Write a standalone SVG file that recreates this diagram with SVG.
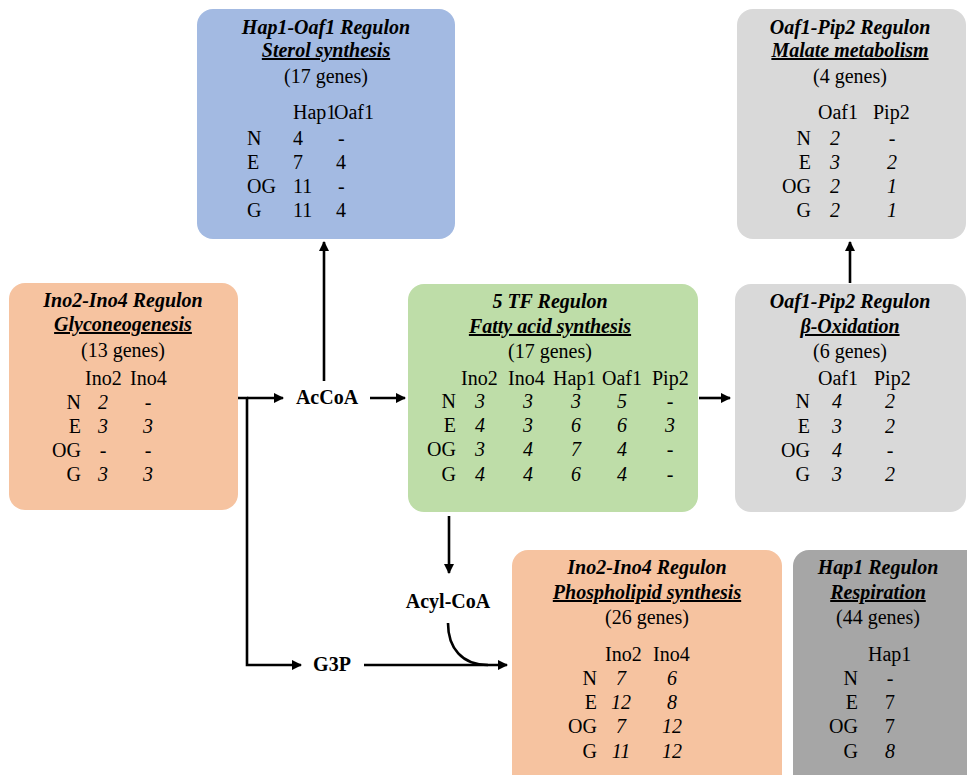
<svg xmlns="http://www.w3.org/2000/svg" width="967" height="775" viewBox="0 0 967 775">
<style>
text{font-family:"Liberation Serif","DejaVu Serif",serif;font-size:20px;fill:#000}
.t{font-weight:bold;font-style:italic;text-anchor:middle}
.u{text-decoration:underline}
.c{text-anchor:middle}
.r{text-anchor:end}
.i{font-style:italic}
.b{font-weight:bold}
.ln{fill:none;stroke:#000;stroke-width:2.6}
.blue{fill:#a3bae2}
.orange{fill:#f6c3a0}
.green{fill:#bedda8}
.grey{fill:#d9d9d9}
.dgrey{fill:#a6a6a6}
</style>
<defs>
<marker id="ah" viewBox="0 0 10 10" refX="9" refY="5" markerWidth="4" markerHeight="4" orient="auto" markerUnits="strokeWidth">
<path d="M0,0 L10,5 L0,10 z" fill="#000"/>
</marker>
</defs>
<rect width="967" height="775" fill="#fff"/>

<g id="connectors">
<line class="ln" x1="324" y1="381" x2="324" y2="242" marker-end="url(#ah)"/>
<line class="ln" x1="370" y1="398" x2="405" y2="398" marker-end="url(#ah)"/>
<polyline class="ln" points="238,398 247,398 247,665 301,665" marker-end="url(#ah)"/>
<line class="ln" x1="247" y1="398" x2="283" y2="398" marker-end="url(#ah)"/>
<line class="ln" x1="364" y1="665" x2="507" y2="665" marker-end="url(#ah)"/>
<line class="ln" x1="449" y1="516" x2="449" y2="573" marker-end="url(#ah)"/>
<path class="ln" d="M448,623 C448,648 462,665 488,665"/>
<line class="ln" x1="699" y1="398" x2="730" y2="398" marker-end="url(#ah)"/>
<line class="ln" x1="850" y1="283" x2="850" y2="242" marker-end="url(#ah)"/>
</g>

<g id="acCoA"><text class="b c" x="327" y="404">AcCoA</text></g>
<g id="g3p"><text class="b c" x="332" y="671">G3P</text></g>
<g id="acylCoA"><text class="b c" x="448" y="608">Acyl-CoA</text></g>

<g id="hap1-oaf1">
<rect class="blue" x="197" y="9" width="258" height="230" rx="16"/>
<text class="t" x="326" y="34">Hap1-Oaf1 Regulon</text>
<text class="t u" x="326" y="57">Sterol synthesis</text>
<text class="c" x="326" y="83">(17 genes)</text>
<text x="293" y="119">Hap1</text><text x="334" y="119">Oaf1</text>
<text x="247" y="145">N</text><text x="293" y="145">4</text><text x="338" y="145">-</text>
<text x="247" y="169">E</text><text x="293" y="169">7</text><text x="336" y="169">4</text>
<text x="247" y="193">OG</text><text x="293" y="193">11</text><text x="338" y="193">-</text>
<text x="247" y="217">G</text><text x="293" y="217">11</text><text x="336" y="217">4</text>
</g>

<g id="oaf1-pip2-malate">
<rect class="grey" x="737" y="9" width="229" height="230" rx="16"/>
<text class="t" x="850" y="34">Oaf1-Pip2 Regulon</text>
<text class="t u" x="850" y="57">Malate metabolism</text>
<text class="c" x="850" y="83">(4 genes)</text>
<text x="818" y="119">Oaf1</text><text x="873" y="119">Pip2</text>
<text class="r" x="811" y="145">N</text><text class="c i" x="835" y="145">2</text><text class="c" x="892" y="145">-</text>
<text class="r" x="811" y="169">E</text><text class="c i" x="835" y="169">3</text><text class="c i" x="892" y="169">2</text>
<text class="r" x="811" y="193">OG</text><text class="c i" x="835" y="193">2</text><text class="c i" x="892" y="193">1</text>
<text class="r" x="811" y="217">G</text><text class="c i" x="835" y="217">2</text><text class="c i" x="892" y="217">1</text>
</g>

<g id="ino2-ino4-gluco">
<rect class="orange" x="9" y="283" width="229" height="227" rx="16"/>
<text class="t" x="123" y="307">Ino2-Ino4 Regulon</text>
<text class="t u" x="123" y="331">Glyconeogenesis</text>
<text class="c" x="123" y="357">(13 genes)</text>
<text x="85" y="385">Ino2</text><text x="130" y="385">Ino4</text>
<text class="r" x="81" y="409">N</text><text class="c i" x="103" y="409">2</text><text class="c" x="148" y="409">-</text>
<text class="r" x="81" y="433">E</text><text class="c i" x="103" y="433">3</text><text class="c i" x="148" y="433">3</text>
<text class="r" x="81" y="457">OG</text><text class="c" x="103" y="457">-</text><text class="c" x="148" y="457">-</text>
<text class="r" x="81" y="481">G</text><text class="c i" x="103" y="481">3</text><text class="c i" x="148" y="481">3</text>
</g>

<g id="tf5-fatty">
<rect class="green" x="408" y="284" width="290" height="228" rx="16"/>
<text class="t" x="550" y="308">5 TF Regulon</text>
<text class="t u" x="550" y="333">Fatty acid synthesis</text>
<text class="c" x="550" y="358">(17 genes)</text>
<text x="461" y="385">Ino2</text><text x="508" y="385">Ino4</text><text x="553" y="385">Hap1</text><text x="602" y="385">Oaf1</text><text x="652" y="385">Pip2</text>
<text class="r" x="456" y="408">N</text><text class="c i" x="480" y="408">3</text><text class="c i" x="528" y="408">3</text><text class="c i" x="576" y="408">3</text><text class="c i" x="622" y="408">5</text><text class="c" x="670" y="408">-</text>
<text class="r" x="456" y="432">E</text><text class="c i" x="480" y="432">4</text><text class="c i" x="528" y="432">3</text><text class="c i" x="576" y="432">6</text><text class="c i" x="622" y="432">6</text><text class="c i" x="670" y="432">3</text>
<text class="r" x="456" y="456">OG</text><text class="c i" x="480" y="456">3</text><text class="c i" x="528" y="456">4</text><text class="c i" x="576" y="456">7</text><text class="c i" x="622" y="456">4</text><text class="c" x="670" y="456">-</text>
<text class="r" x="456" y="481">G</text><text class="c i" x="480" y="481">4</text><text class="c i" x="528" y="481">4</text><text class="c i" x="576" y="481">6</text><text class="c i" x="622" y="481">4</text><text class="c" x="670" y="481">-</text>
</g>

<g id="oaf1-pip2-boxidation">
<rect class="grey" x="735" y="284" width="231" height="228" rx="16"/>
<text class="t" x="850" y="308">Oaf1-Pip2 Regulon</text>
<text class="t u" x="850" y="333">β-Oxidation</text>
<text class="c" x="850" y="358">(6 genes)</text>
<text x="818" y="385">Oaf1</text><text x="874" y="385">Pip2</text>
<text class="r" x="810" y="408">N</text><text class="c i" x="837" y="408">4</text><text class="c i" x="890" y="408">2</text>
<text class="r" x="810" y="433">E</text><text class="c i" x="837" y="433">3</text><text class="c i" x="890" y="433">2</text>
<text class="r" x="810" y="457">OG</text><text class="c i" x="837" y="457">4</text><text class="c" x="890" y="457">-</text>
<text class="r" x="810" y="481">G</text><text class="c i" x="837" y="481">3</text><text class="c i" x="890" y="481">2</text>
</g>

<g id="ino2-ino4-phospholipid">
<rect class="orange" x="512" y="550" width="270" height="240" rx="16"/>
<text class="t" x="647" y="574">Ino2-Ino4 Regulon</text>
<text class="t u" x="647" y="599">Phospholipid synthesis</text>
<text class="c" x="647" y="624">(26 genes)</text>
<text x="605" y="661">Ino2</text><text x="653" y="661">Ino4</text>
<text class="r" x="597" y="685">N</text><text class="c i" x="621" y="685">7</text><text class="c i" x="672" y="685">6</text>
<text class="r" x="597" y="709">E</text><text class="c i" x="621" y="709">12</text><text class="c i" x="672" y="709">8</text>
<text class="r" x="597" y="733">OG</text><text class="c i" x="621" y="733">7</text><text class="c i" x="672" y="733">12</text>
<text class="r" x="597" y="758">G</text><text class="c i" x="621" y="758">11</text><text class="c i" x="672" y="758">12</text>
</g>

<g id="hap1-respiration">
<rect class="dgrey" x="793" y="550" width="190" height="240" rx="16"/>
<text class="t" x="878" y="574">Hap1 Regulon</text>
<text class="t u" x="878" y="599">Respiration</text>
<text class="c" x="878" y="624">(44 genes)</text>
<text x="868" y="661">Hap1</text>
<text class="r" x="858" y="685">N</text><text class="c" x="890" y="685">-</text>
<text class="r" x="858" y="709">E</text><text class="c" x="890" y="709">7</text>
<text class="r" x="858" y="733">OG</text><text class="c" x="890" y="733">7</text>
<text class="r" x="858" y="758">G</text><text class="c i" x="890" y="758">8</text>
</g>
</svg>
